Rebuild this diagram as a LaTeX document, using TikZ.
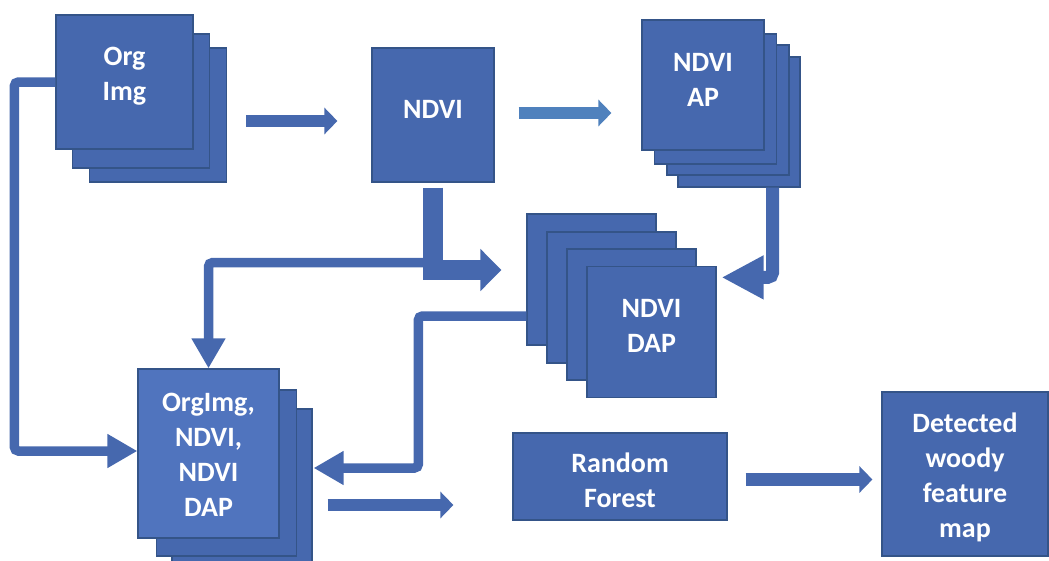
\documentclass[tikz,border=0pt]{standalone}
\usepackage{fontspec}
\setmainfont{Carlito}
\usetikzlibrary{arrows.meta}
\definecolor{boxblue}{RGB}{70,104,174}
\definecolor{edgeblue}{RGB}{52,84,136}
\definecolor{frontblue}{RGB}{80,116,190}
\definecolor{lineblue}{RGB}{79,129,189}
\begin{document}
\begin{tikzpicture}[x=1pt, y=-1pt,
	box/.style={rectangle, draw=edgeblue, fill=boxblue, line width=1.2pt, inner sep=0pt},
	txt/.style={text=white, align=center, inner sep=0pt, font=\fontsize{28}{35}\selectfont\bfseries},
	flow/.style={draw=boxblue, line width=12.5pt, -{Triangle[width=26pt,length=13pt]}},
	feed/.style={draw=boxblue, line width=9.5pt, rounded corners=4pt, -{Triangle[width=32pt,length=30pt]}},
	trunk/.style={draw=boxblue, line width=20pt, -{Triangle[width=41pt,length=21pt]}},
	elbow/.style={draw=boxblue, line width=13pt, rounded corners=5pt, -{Triangle[width=41pt,length=42pt]}}]
		\useasboundingbox (0,0) rectangle (1049,560);
		
		% Nodes
		\node (org3) at (158,115) [box, minimum width=137pt, minimum height=134pt] {};
		\node (org2) at (141,101) [box, minimum width=137pt, minimum height=134pt] {};
		\node (org1) at (124.5,82) [box, minimum width=137pt, minimum height=134pt,
			label={[txt, yshift=6pt]center:{Org\\Img}}] {};
		
		\node (ndvi) at (433,115) [box, minimum width=122pt, minimum height=134pt,
			label={[txt, yshift=6pt]center:NDVI}] {};
		
		\node (ap4) at (739,122) [box, minimum width=122pt, minimum height=130pt] {};
		\node (ap3) at (728,110) [box, minimum width=122pt, minimum height=130pt] {};
		\node (ap2) at (715.5,99) [box, minimum width=122pt, minimum height=130pt] {};
		\node (ap1) at (703,85) [box, minimum width=122pt, minimum height=130pt,
			label={[txt, yshift=5pt]center:{NDVI\\AP}}] {};
		
		\node (dap1) at (591.5,279.5) [box, minimum width=129pt, minimum height=131pt] {};
		\node (dap2) at (611.5,297.5) [box, minimum width=129pt, minimum height=131pt] {};
		\node (dap3) at (631.5,314.5) [box, minimum width=129pt, minimum height=131pt] {};
		\node (dap4) at (651.5,332) [box, minimum width=129pt, minimum height=131pt,
			label={[txt, yshift=6pt]center:{NDVI\\DAP}}] {};
		
		\node (mix3) at (242,492) [box, minimum width=140pt, minimum height=166pt] {};
		\node (mix2) at (226.5,473) [box, minimum width=140pt, minimum height=166pt] {};
		\node (mix1) at (208.5,453.5) [box, fill=frontblue, minimum width=141pt, minimum height=169pt,
			label={[txt, yshift=-1pt]center:{OrgImg,\\NDVI,\\NDVI\\DAP}}] {};
		
		\node (rf) at (620,476.5) [box, minimum width=214pt, minimum height=87pt,
			label={[txt, yshift=-4pt]center:{Random\\Forest}}] {};
		\node (det) at (965,474) [box, minimum width=166pt, minimum height=164pt,
			label={[txt, yshift=-3pt]center:{Detected\\woody\\feature\\map}}] {};
		
		% Lines
		\draw[flow] ([xshift=19pt,yshift=-6pt]org3.east) -- ([xshift=-34pt,yshift=-6pt]ndvi.west);
		\draw[flow, draw=lineblue] ([xshift=24pt,yshift=2pt]ndvi.east) -- ([xshift=-30pt,yshift=2pt]ndvi.east -| ap1.west);
		
		\draw[feed] ([yshift=-80pt]ndvi.south) -| (mix1.north);
		\draw[trunk] ([yshift=-5pt]ndvi.south) |- ([xshift=-25pt,yshift=9.5pt]dap1.west);
		
		\draw[elbow] ([xshift=-28pt]ap4.south east) |- ([xshift=5pt,yshift=-11.5pt]dap4.north east);
		
		\draw[feed] ([yshift=-36.5pt]dap1.west) -- ++(-108pt,0) |- ([xshift=1pt,yshift=24pt]mix3.east);
		\draw[feed] (org1.west) -- ++(-41pt,0) |- ([yshift=2.5pt]mix1.west);
		
		\draw[flow] ([xshift=15pt,yshift=-13pt]mix3.east) -- ([xshift=-59pt,yshift=-13pt]mix3.east -| rf.west);
		\draw[flow] ([xshift=18pt,yshift=-3pt]rf.east) -- ([xshift=-9pt,yshift=-3pt]rf.east -| det.west);
		
	\end{tikzpicture}
\end{document}
